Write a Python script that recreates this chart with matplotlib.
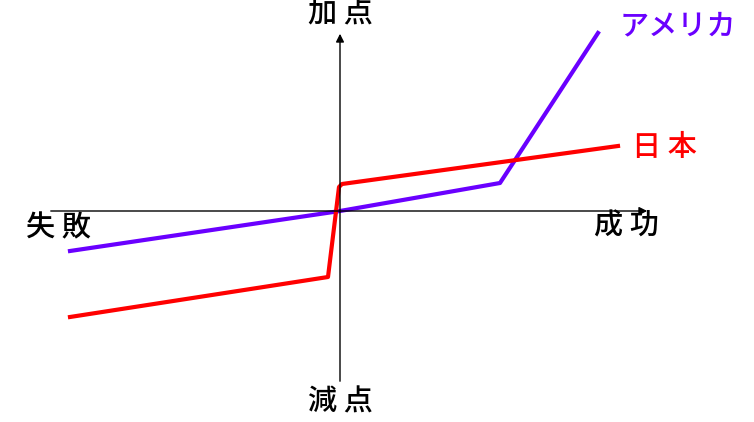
import matplotlib.pyplot as plt

plt.rcParams['font.family'] = ['Noto Sans CJK JP', 'DejaVu Sans']

# アメリカ: 失敗で少し減点, 成功すると大きく加点
us_x = [-270, 0, 160, 258]
us_y = [-40, 0, 28, 178]

# 日本: 失敗すると大きく減点
jp_x = [-270, -12, -1, 2, 278]
jp_y = [-106, -66, 24, 27, 65]

fig = plt.figure(figsize=(7.54, 4.22), dpi=100)
ax = fig.add_axes([0, 0, 1, 1])
ax.set_xlim(-340, 414)
ax.set_ylim(-211, 211)
ax.axis('off')

# 軸
ax.annotate('', xy=(310, 0), xytext=(-292, 0),
            arrowprops=dict(arrowstyle='-|>', lw=1, color='black', mutation_scale=12))
ax.annotate('', xy=(0, 180), xytext=(0, -173),
            arrowprops=dict(arrowstyle='-|>', lw=1, color='black', mutation_scale=12))

ax.plot(us_x, us_y, '-', color='#6a00ff', lw=3, solid_joinstyle='round')
ax.plot(jp_x, jp_y, '-', color='#ff0000', lw=3, solid_joinstyle='round')

fs = 21
ax.text(0, 197, '加 点', ha='center', va='center', fontsize=fs, weight='medium')
ax.text(0, -191, '減 点', ha='center', va='center', fontsize=fs, weight='medium')
ax.text(-282, -17, '失 敗', ha='center', va='center', fontsize=fs, weight='medium')
ax.text(286, -15, '成 功', ha='center', va='center', fontsize=fs, weight='medium')
ax.text(338, 185, 'アメリカ', ha='center', va='center', fontsize=fs, weight='medium', color='#6a00ff')
ax.text(324, 64, '日 本', ha='center', va='center', fontsize=fs, weight='medium', color='#ff0000')

plt.savefig('out.png', dpi=100)
